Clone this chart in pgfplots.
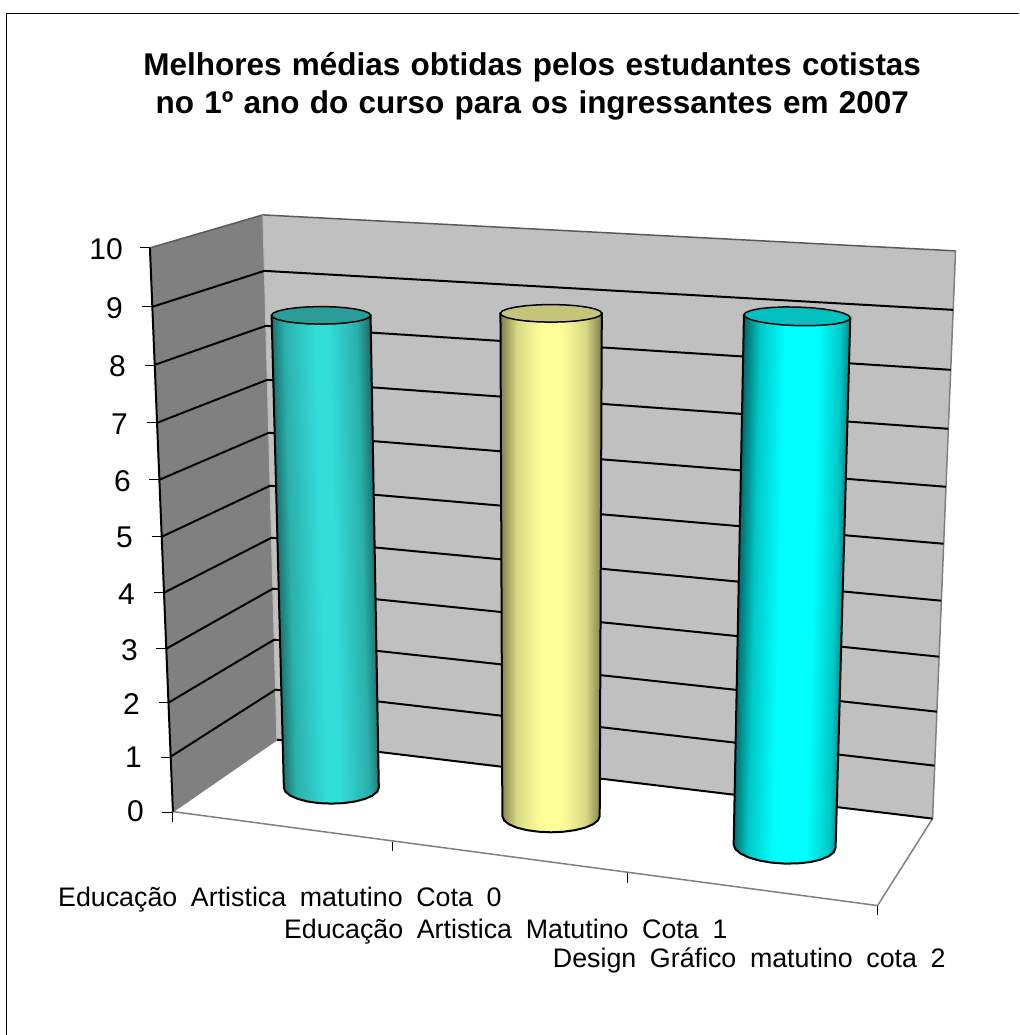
\documentclass[border=0pt]{standalone}
\usepackage{pgfplots}
\pgfplotsset{compat=1.18}
\usepackage{fontspec}
\setmainfont{Liberation Sans}
\definecolor{wallback}{HTML}{C0C0C0}
\definecolor{wallleft}{HTML}{808080}
\definecolor{aE}{HTML}{185F5C}\definecolor{aM}{HTML}{2AB0AC}\definecolor{aB}{HTML}{33DDD8}
\definecolor{bE}{HTML}{7F7F50}\definecolor{bM}{HTML}{D8D882}\definecolor{bB}{HTML}{FFFF99}
\definecolor{cE}{HTML}{005F5F}\definecolor{cM}{HTML}{00C8C8}\definecolor{cB}{HTML}{00FFFF}
\pgfdeclarehorizontalshading{barAs}{100bp}{color(0bp)=(aE); color(28bp)=(aE); color(35bp)=(aM); color(48bp)=(aB); color(54bp)=(aB); color(66bp)=(aM); color(73bp)=(aE); color(100bp)=(aE)}
\pgfdeclarehorizontalshading{barBs}{100bp}{color(0bp)=(bE); color(25bp)=(bE); color(33bp)=(bM); color(45bp)=(bB); color(55bp)=(bB); color(67bp)=(bM); color(75bp)=(bE); color(100bp)=(bE)}
\pgfdeclarehorizontalshading{barCs}{100bp}{color(0bp)=(cE); color(28bp)=(cE); color(35bp)=(cM); color(45bp)=(cB); color(58bp)=(cB); color(67bp)=(cM); color(73bp)=(cE); color(100bp)=(cE)}
\newcommand{\wsT}{\spaceskip=10.3pt\relax}
\newcommand{\wsL}{\spaceskip=13.7pt\relax}
\begin{document}
\begin{tikzpicture}
\begin{axis}[
  scale only axis, width=1019pt, height=1035pt,
  xmin=0, xmax=1019, ymin=0, ymax=1035, y dir=reverse,
  axis lines=none, clip=false, unbounded coords=jump,
]
\path (axis cs:0,0) rectangle (axis cs:1019,1035);
% frame
\addplot[black, line width=1pt] coordinates {(7,1035) (7,14) (1019,14)};
% walls and floor
\addplot[draw=none, fill=wallback] coordinates {(263,215) (956,251) (933,819) (277,740)} -- cycle;
\addplot[draw=none, fill=wallleft] coordinates {(150,248) (263,215) (277,740) (173,812)} -- cycle;
% wall outline
\addplot[wallleft!70!black, line width=1.5pt] coordinates {(150,248) (263,215) (956,251)};
\addplot[wallleft, line width=1.5pt] coordinates {(956,251) (933,819) (878,906) (173,812) (277,740)};
\addplot[wallleft!55!white, line width=1pt] coordinates {(263,215) (277,740)};
% gridlines 9 ... 0 : front, corner, right
\addplot[black, line width=2pt] coordinates {
 (152.4,307) (264.5,271) (953.6,310) (nan,nan)
 (154.8,365) (266,326) (951.2,370) (nan,nan)
 (157.1,423) (267.4,380) (948.8,429) (nan,nan)
 (159.5,480) (268.8,433) (946.4,487) (nan,nan)
 (161.8,537) (270.2,486) (944.1,544) (nan,nan)
 (164.1,593) (271.6,538) (941.8,601) (nan,nan)
 (166.4,649) (273,589) (939.5,657) (nan,nan)
 (168.6,703) (274.3,640) (937.3,712) (nan,nan)
 (170.8,757) (275.7,690) (935.1,766) (nan,nan)
 (277,740) (933,819)
};
% value axis and its ticks
\addplot[black, line width=2pt] coordinates {(150,248) (173,812)};
\addplot[black, line width=1pt] coordinates {
 (140,248) (150,248) (nan,nan) (142.4,307) (152.4,307) (nan,nan)
 (144.8,365.5) (154.8,365.5) (nan,nan) (147.1,423) (157.1,423) (nan,nan)
 (149.5,480) (159.5,480) (nan,nan) (151.8,537) (161.8,537) (nan,nan)
 (154.1,593) (164.1,593) (nan,nan) (156.4,649) (166.4,649) (nan,nan)
 (158.6,703) (168.6,703) (nan,nan) (160.8,757.5) (170.8,757.5) (nan,nan)
 (162,813) (173,813)
};
% category ticks
\addplot[black, line width=1pt] coordinates {
 (173,812) (173,822) (nan,nan) (393,842) (393,851) (nan,nan)
 (628,873) (628,883) (nan,nan) (878,906) (878,915)
};
% bar 1
\addplot[draw=black, line width=2pt, shading=barAs, shading angle=1.45] coordinates {
 (271.75,315.5) (370.75,315.5) (379,788) (377.4,792.1) (372.6,796) (365.1,799.3) (355.25,801.9) (343.8,803.5) (331.5,804) (319.2,803.5) (307.75,801.9) (297.9,799.3) (290.4,796) (285.6,792.1) (284,788)
} -- cycle;
\addplot[draw=black, line width=1.5pt, fill={rgb,255:red,42;green,157;blue,154}] coordinates {
 (370.75,315.5) (369.1,317.8) (364.1,319.9) (356.25,321.7) (346,323.1) (334.1,324) (321.25,324.3) (308.4,324) (296.5,323.1) (286.25,321.7) (278.4,319.9) (273.4,317.8) (271.75,315.5) (273.4,313.2) (278.4,311.1) (286.25,309.3) (296.5,307.9) (308.4,307) (321.25,306.7) (334.1,307) (346,307.9) (356.25,309.3) (364.1,311.1) (369.1,313.2)
} -- cycle;
% bar 2
\addplot[draw=black, line width=2pt, shading=barBs] coordinates {
 (500.7,313.5) (602.1,313.5) (600,816.5) (598.3,820.7) (593.5,824.6) (585.7,828) (575.7,830.5) (563.9,832.1) (551.3,832.7) (538.7,832.1) (526.9,830.5) (516.9,828) (509.1,824.6) (504.3,820.7) (502.6,816.5)
} -- cycle;
\addplot[draw=black, line width=1.5pt, fill={rgb,255:red,196;green,196;blue,122}] coordinates {
 (602.1,313.5) (600.4,315.8) (595.3,317.9) (587.2,319.7) (576.8,321.1) (564.5,322) (551.4,322.3) (538.3,322) (526,321.1) (515.6,319.7) (507.5,317.9) (502.4,315.8) (500.7,313.5) (502.4,311.2) (507.5,309.1) (515.6,307.3) (526,305.9) (538.3,305) (551.4,304.7) (564.5,305) (576.8,305.9) (587.2,307.3) (595.3,309.1) (600.4,311.2)
} -- cycle;
% bar 3
\addplot[draw=black, line width=2pt, shading=barCs, shading angle=-1.35] coordinates {
 (744.3,315) (850.7,318) (836,848) (834.3,852.5) (829.2,856.6) (821.1,860) (810.5,862.5) (798.2,863.8) (785,864) (771.8,863) (759.5,860.9) (748.9,857.8) (740.8,853.9) (735.7,849.5) (734,845)
} -- cycle;
\addplot[draw=black, line width=1.5pt, fill={rgb,255:red,0;green,192;blue,192}] coordinates {
 (850.7,318) (848.9,320.4) (843.6,322.5) (835.1,324.2) (824.1,325.3) (811.3,325.9) (797.5,325.8) (783.7,325.1) (770.9,323.8) (759.9,322) (751.4,319.9) (746.1,317.5) (744.3,315) (746.1,312.7) (751.4,310.6) (759.9,308.8) (770.9,307.7) (783.7,307.1) (797.5,307.2) (811.3,307.9) (824.1,309.2) (835.1,311) (843.6,313.2) (848.9,315.6)
} -- cycle;
% texts
\node[font=\fontsize{31.5}{38}\selectfont\bfseries, align=center] at (axis cs:532.5,86.5) {\wsT Melhores médias obtidas pelos estudantes cotistas\\\wsT no 1º ano do curso para os ingressantes em 2007};
\node[anchor=east,inner sep=0pt,font=\fontsize{30}{30}\selectfont] at (axis cs:123,249) {10};
\node[anchor=east,inner sep=0pt,font=\fontsize{30}{30}\selectfont] at (axis cs:123,308) {9};
\node[anchor=east,inner sep=0pt,font=\fontsize{30}{30}\selectfont] at (axis cs:126,366) {8};
\node[anchor=east,inner sep=0pt,font=\fontsize{30}{30}\selectfont] at (axis cs:128,424) {7};
\node[anchor=east,inner sep=0pt,font=\fontsize{30}{30}\selectfont] at (axis cs:131,481) {6};
\node[anchor=east,inner sep=0pt,font=\fontsize{30}{30}\selectfont] at (axis cs:133,538) {5};
\node[anchor=east,inner sep=0pt,font=\fontsize{30}{30}\selectfont] at (axis cs:135,594) {4};
\node[anchor=east,inner sep=0pt,font=\fontsize{30}{30}\selectfont] at (axis cs:138,650) {3};
\node[anchor=east,inner sep=0pt,font=\fontsize{30}{30}\selectfont] at (axis cs:140,704) {2};
\node[anchor=east,inner sep=0pt,font=\fontsize{30}{30}\selectfont] at (axis cs:142,758) {1};
\node[anchor=east,inner sep=0pt,font=\fontsize{30}{30}\selectfont] at (axis cs:144,812) {0};
\node[anchor=west,inner sep=0pt,font=\fontsize{26.8}{30}\selectfont] at (axis cs:58,900) {\wsL Educação Artistica matutino Cota 0};
\node[anchor=west,inner sep=0pt,font=\fontsize{26.8}{30}\selectfont] at (axis cs:284,932) {\wsL Educação Artistica Matutino Cota 1};
\node[anchor=west,inner sep=0pt,font=\fontsize{26.8}{30}\selectfont] at (axis cs:553,961) {\wsL Design Gráfico matutino cota 2};
\end{axis}
\end{tikzpicture}
\end{document}
